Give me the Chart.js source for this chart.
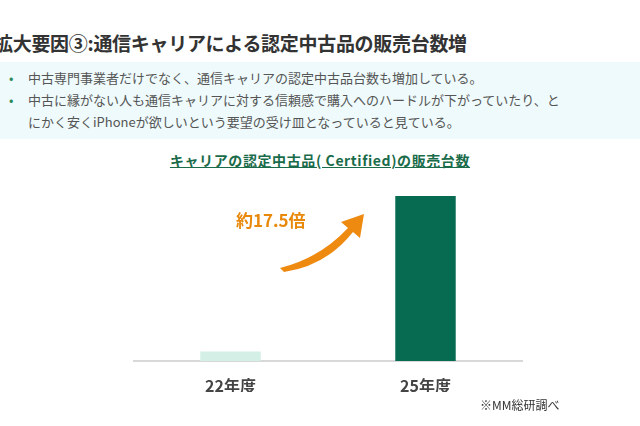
<!DOCTYPE html>
<html lang="ja">
<head>
<meta charset="UTF-8">
<title>キャリアの認定中古品の販売台数</title>
<script src="https://cdn.jsdelivr.net/npm/chart.js"></script>
<style>
  body { margin: 0; width: 640px; height: 426px; background: #fff; position: relative; overflow: hidden;
         font-family: "Noto Sans CJK JP", "Noto Sans", sans-serif; }
  .title { position: absolute; left: -6px; top: 29px; font-size: 19px; font-weight: bold; color: #333; white-space: nowrap; letter-spacing: -0.3px; }
  .box { position: absolute; left: 0; top: 62px; width: 640px; height: 77px; background: #eefafb; }
  .box ul { margin: 0; padding: 5px 0 0 28px; list-style: none; font-size: 13px; color: #555; line-height: 22px; }
  .box li { position: relative; padding-left: 0; }
  .box li::before { content: "•"; position: absolute; left: -19px; color: #2c8a5a; }
  .ctitle { position: absolute; left: 0; width: 640px; top: 150px; text-align: center; font-size: 14px; font-weight: bold;
            color: #1a6b4a; text-decoration: underline; letter-spacing: 0.6px; }
  .note { position: absolute; left: 480px; top: 396px; font-size: 12px; color: #333; }
  .mult { position: absolute; left: 236px; top: 207px; font-size: 17px; font-weight: bold; color: #e8890c; }
  #wrap { position: absolute; left: 133px; top: 180px; width: 390px; height: 212px; }
  svg { position: absolute; left: 0; top: 0; }
</style>
</head>
<body>
<div class="title">拡大要因③:通信キャリアによる認定中古品の販売台数増</div>
<div class="box">
  <ul>
    <li>中古専門事業者だけでなく、通信キャリアの認定中古品台数も増加している。</li>
    <li>中古に縁がない人も通信キャリアに対する信頼感で購入へのハードルが下がっていたり、と<br>にかく安くiPhoneが欲しいという要望の受け皿となっていると見ている。</li>
  </ul>
</div>
<div class="ctitle">キャリアの認定中古品( Certified)の販売台数</div>
<div id="wrap"><canvas id="c"></canvas></div>
<div class="mult">約17.5倍</div>
<svg width="640" height="426">
  <path d="M280 268 Q320 258 348 228 L341 222 L364 214 L360 238 L353 232 Q326 266 284 272 Z" fill="#ee8a10"/>
</svg>
<div class="note">※MM総研調べ</div>
<script>
const labels = ['22年度', '25年度'];
const values = [1, 17.5];
const colors = ['#d3efe6', '#066b51'];

new Chart(document.getElementById('c'), {
  type: 'bar',
  data: { labels: labels, datasets: [{ data: values, backgroundColor: colors, barPercentage: 0.31, categoryPercentage: 1 }] },
  options: {
    responsive: true, maintainAspectRatio: false, animation: false,
    layout: { padding: 0 },
    plugins: { legend: { display: false }, tooltip: { enabled: false } },
    scales: {
      x: {
        grid: { display: false, drawTicks: false },
        border: { color: '#d8d8d8', width: 2 },
        ticks: { color: '#444', padding: 15, font: { size: 16, weight: 'bold', family: 'Noto Sans CJK JP' } },
        afterFit: s => { s.height = 31; }
      },
      y: { display: false, min: 0, max: 19.2 }
    }
  }
});
</script>
</body>
</html>
